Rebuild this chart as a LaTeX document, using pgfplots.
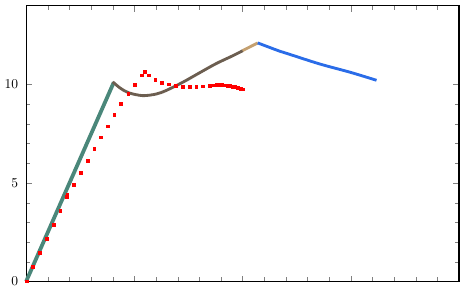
\documentclass[border=0pt]{standalone}
\usepackage{pgfplots}
\pgfplotsset{compat=1.18}
\definecolor{cgreen}{RGB}{74,135,122}
\definecolor{cbrown}{RGB}{108,94,80}
\definecolor{ctan}{RGB}{196,160,112}
\definecolor{cblue}{RGB}{42,108,232}
\begin{document}
\begin{tikzpicture}
\begin{axis}[
  scale only axis,
  width=320pt, height=203.6pt,
  xmin=0, xmax=4, ymin=0, ymax=14,
  xtick={0,1,2,3,4}, xticklabels={},
  x tick label style={inner sep=0pt},
  y tick label style={xshift=-2.5pt, inner ysep=0pt},
  ytick={0,5,10},
  minor x tick num=4, minor y tick num=4,
  tick align=inside,
  axis line style={line width=0.8pt},
  clip=false,
]
\addplot[cgreen, line width=2.8pt] coordinates {(0,0) (0.81,10.12)};
\addplot[cbrown, line width=2.1pt, smooth] coordinates {
(0.80,10.14) (0.87,9.82) (0.95,9.58) (1.077,9.44) (1.2,9.52) (1.293,9.70)
(1.447,10.12) (1.602,10.60) (1.756,11.07) (1.91,11.47) (2.003,11.73)};
\addplot[ctan, line width=2.1pt] coordinates {(2.0,11.73) (2.14,12.12)};
\addplot[cblue, line width=2.1pt, smooth] coordinates {
(2.14,12.12) (2.343,11.70) (2.435,11.54) (2.713,11.05) (3.0,10.62) (3.238,10.22)};
\addplot[only marks, mark=square*, mark size=1.0pt, red, mark options={draw=red,fill=red}] coordinates {
(0.003,0) (0.062,0.73) (0.127,1.44) (0.192,2.17) (0.253,2.88) (0.315,3.59)
(0.375,4.30) (0.380,4.40) (0.442,4.92) (0.503,5.52) (0.568,6.14) (0.630,6.74)
(0.692,7.32) (0.753,7.89) (0.815,8.46) (0.877,9.01) (0.944,9.52) (1.005,10.01)
(1.068,10.47) (1.094,10.65) (1.132,10.48) (1.192,10.26) (1.256,10.10) (1.318,10.02)
(1.380,9.93) (1.447,9.90) (1.509,9.90) (1.571,9.90) (1.633,9.91) (1.694,9.93)
(1.730,9.96) (1.745,9.97) (1.760,9.98) (1.775,9.98) (1.790,9.98) (1.805,9.98)
(1.820,9.97) (1.835,9.97) (1.850,9.96) (1.865,9.95) (1.880,9.94) (1.895,9.92)
(1.910,9.90) (1.925,9.88) (1.940,9.86) (1.955,9.84) (1.970,9.81) (1.985,9.79)
(2.003,9.76)};
\path ([xshift=5.2pt,yshift=4.4pt]rel axis cs:1,1) -- ([yshift=-3.9pt]rel axis cs:0,0);
\end{axis}
\end{tikzpicture}
\end{document}
